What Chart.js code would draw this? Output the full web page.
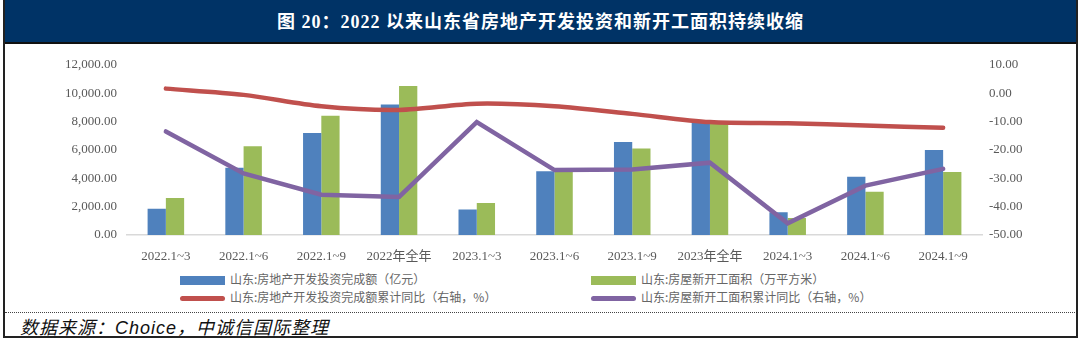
<!DOCTYPE html>
<html lang="zh-CN">
<head>
<meta charset="UTF-8">
<title>山东省房地产开发投资和新开工面积</title>
<script src="https://cdn.jsdelivr.net/npm/chart.js"></script>
<style>
  body { margin: 0; width: 1080px; height: 341px; background: #fff; overflow: hidden; position: relative; }
  .frame { position: absolute; left: 3px; top: 0; width: 1071px; height: 336px; border: 2px solid #222; border-top: none; }
  .title-bar {
    position: absolute; left: 0; top: 0; right: 0; height: 42px;
    background: #003366; border-bottom: 2px solid #111;
    color: #fff; font: bold 18px "Liberation Serif", "Noto Sans CJK SC", serif;
    line-height: 44px; text-align: center; letter-spacing: 1px;
  }
  .chart-box { position: absolute; left: 0; top: 47px; width: 1080px; height: 220px; }
  .legend { position: absolute; left: 0; top: 270px; width: 1080px; height: 40px;
    font: 12px "Noto Sans CJK SC", sans-serif; color: #666; }
  .legend .item { position: absolute; height: 18px; line-height: 18px; white-space: nowrap; }
  .legend .mark { display: inline-block; width: 45px; vertical-align: middle; margin-right: 5px; }
  .legend .bar { height: 9px; }
  .legend .line { height: 5px; border-radius: 3px; }
  .source-line { position: absolute; left: 5px; right: 5px; top: 312px; border-top: 1px dotted #444; }
  .source { position: absolute; left: 20px; top: 313px; font: italic 18px "Liberation Sans", "Noto Sans CJK SC", sans-serif; color: #111; letter-spacing: 1px; }
</style>
</head>
<body>
<div class="frame">
  <div class="title-bar">图 20：2022 以来山东省房地产开发投资和新开工面积持续收缩</div>
</div>
<div class="chart-box"><canvas id="chart"></canvas></div>
<div class="legend" id="legend"></div>
<div class="source-line"></div>
<div class="source">数据来源：Choice，中诚信国际整理</div>

<script>
const periods = ['2022.1~3', '2022.1~6', '2022.1~9', '2022年全年', '2023.1~3', '2023.1~6',
                 '2023.1~9', '2023年全年', '2024.1~3', '2024.1~6', '2024.1~9'];

// 左轴：亿元 / 万平方米
const investAmount = [1850, 4750, 7200, 9200, 1800, 4500, 6550, 8000, 1600, 4100, 6000];
const newStartArea = [2600, 6250, 8400, 10500, 2250, 4500, 6100, 7900, 1200, 3050, 4450];

// 右轴：累计同比 %
const investYoY = [1.6, -0.6, -4.6, -5.9, -3.7, -4.6, -7.3, -10.2, -10.6, -11.4, -12.2];
const newStartYoY = [-13.5, -28.3, -35.8, -36.6, -10.2, -27.1, -26.9, -24.5, -45.9, -32.6, -26.7];

const seriesNames = [
  '山东:房地产开发投资完成额（亿元）',
  '山东:房屋新开工面积（万平方米）',
  '山东:房地产开发投资完成额累计同比（右轴，%）',
  '山东:房屋新开工面积累计同比（右轴，%）'
];
const seriesColors = ['#4F81BD', '#9BBB59', '#C0504D', '#8064A2'];

const tickFont = { family: '"Liberation Serif", "Noto Sans CJK SC", serif', size: 13 };
const tickColor = '#595959';

new Chart(document.getElementById('chart'), {
  type: 'bar',
  data: {
    labels: periods,
    datasets: [
      { type: 'bar', label: seriesNames[0], data: investAmount, backgroundColor: seriesColors[0],
        yAxisID: 'y', order: 2, categoryPercentage: 0.47, barPercentage: 1 },
      { type: 'bar', label: seriesNames[1], data: newStartArea, backgroundColor: seriesColors[1],
        yAxisID: 'y', order: 2, categoryPercentage: 0.47, barPercentage: 1 },
      { type: 'line', label: seriesNames[2], data: investYoY, borderColor: seriesColors[2],
        borderWidth: 4.5, pointRadius: 0, tension: 0.3, borderCapStyle: 'round', yAxisID: 'y1', order: 1 },
      { type: 'line', label: seriesNames[3], data: newStartYoY, borderColor: seriesColors[3],
        borderWidth: 4.5, pointRadius: 0, tension: 0, borderCapStyle: 'round', yAxisID: 'y1', order: 0 }
    ]
  },
  options: {
    responsive: true,
    maintainAspectRatio: false,
    animation: false,
    layout: { padding: { top: 15, left: 0, right: 0, bottom: 0 } },
    plugins: { legend: { display: false }, tooltip: { enabled: false } },
    scales: {
      x: {
        grid: { display: false },
        border: { display: true, color: '#d9d9d9', width: 1.5 },
        ticks: { font: tickFont, color: tickColor, padding: 6, maxRotation: 0, autoSkip: false },
        afterFit: s => { s.height = 32; }
      },
      y: {
        position: 'left', min: 0, max: 12000,
        grid: { display: false, drawTicks: false },
        border: { display: false },
        ticks: { stepSize: 2000, font: tickFont, color: tickColor, padding: 10,
          callback: v => v.toLocaleString('en-US', { minimumFractionDigits: 2, maximumFractionDigits: 2 }) },
        afterFit: s => { s.width = 127; }
      },
      y1: {
        position: 'right', min: -50, max: 10,
        grid: { display: false, drawTicks: false },
        border: { display: false },
        ticks: { stepSize: 10, font: tickFont, color: tickColor, padding: 7,
          callback: v => v.toFixed(2) },
        afterFit: s => { s.width = 98; }
      }
    }
  }
});

// 图例：两列排布
const legendPos = [[180, 270], [591, 270], [180, 288], [591, 288]];
const legend = document.getElementById('legend');
seriesNames.forEach((name, i) => {
  const item = document.createElement('div');
  item.className = 'item';
  item.style.left = legendPos[i][0] + 'px';
  item.style.top = (legendPos[i][1] - 270) + 'px';
  const mark = document.createElement('span');
  mark.className = 'mark ' + (i < 2 ? 'bar' : 'line');
  mark.style.background = seriesColors[i];
  item.appendChild(mark);
  item.appendChild(document.createTextNode(name));
  legend.appendChild(item);
});
</script>
</body>
</html>
